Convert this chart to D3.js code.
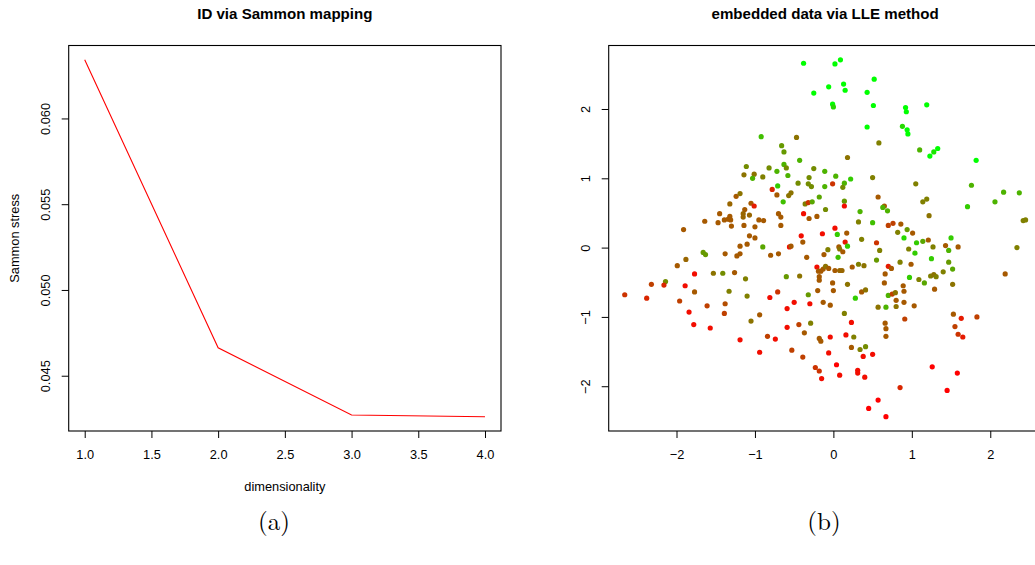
<!DOCTYPE html>
<html><head><meta charset="utf-8">
<script src="https://cdn.jsdelivr.net/npm/d3@7"></script>
<style>
body{margin:0;background:#fff}
text{font-family:"Liberation Sans",Arial,Helvetica,sans-serif;fill:#000}
</style></head>
<body><svg id="c" width="1035" height="565"></svg>
<script>
// ---- panel (a): Sammon stress vs dimensionality
const dims = [1, 2, 3, 4];
const stress = [0.06342, 0.04663, 0.04271, 0.04261];
const xTicksA = [1, 1.5, 2, 2.5, 3, 3.5, 4];
const yTicksA = [0.045, 0.050, 0.055, 0.060];

// ---- panel (b): LLE embedding (x, y, colour shade 0=red .. 1=green)
const lleX = [-1.32,-1.45,-1.64,-1.47,-1.39,-1.32,-1.34,-1.31,-1.30,-1.91,-1.24,-1.19,
-0.38,0.02,0.09,0.52,-0.06,0.13,0.15,-0.25,0.43,-0.01,0.00,0.51,0.43,-0.92,-0.47,0.58,-0.66,-0.63,
0.18,-0.43,-1.11,-0.63,-0.60,-0.82,-0.72,-0.25,-0.11,-1.14,-1.01,-1.03,-0.90,-0.58,-0.31,0.03,0.22,0.50,
0.14,0.12,-0.45,-0.32,-0.28,-0.11,-0.71,-0.01,-0.78,-0.72,-0.57,-0.54,-0.18,0.57,-0.64,-0.36,-0.32,-0.27,
0.14,0.14,-1.05,-1.01,-1.13,-1.15,-1.15,-1.07,-0.70,-0.67,-0.38,-0.31,-0.21,-0.10,0.34,0.32,0.50,-0.95,
-0.89,-1.14,-1.00,-0.67,0.02,
0.92,0.93,1.19,0.88,0.94,0.95,1.10,1.33,1.28,1.23,1.82,1.05,1.76,2.17,2.37,1.19,1.14,0.65,0.63,0.69,
1.71,2.06,1.22,2.45,2.42,0.70,0.76,0.86,0.94,
0.82,1.01,0.90,1.06,1.14,1.21,1.50,0.96,1.04,1.27,1.43,1.59,1.47,1.25,0.85,0.99,1.47,2.34,2.19,0.70,
0.74,0.66,0.65,0.97,1.09,1.16,1.40,1.52,1.24,1.28,1.31,1.52,0.89,0.90,1.29,0.70,0.75,0.79,0.80,0.90,
0.67,0.80,1.03,0.91,1.53,1.63,1.83,0.66,0.67,0.67,1.55,1.59,1.65,1.26,1.58,0.85,1.45,0.67,
-1.66,-1.63,-1.38,-1.88,-1.99,-1.77,-1.53,-1.41,-2.32,-2.14,-2.16,-1.89,-1.77,-1.33,-2.66,-2.38,-1.96,
-1.38,-1.61,-1.84,-1.39,-1.78,-1.57,
-1.07,-1.00,-1.19,-1.10,-0.90,-1.23,-1.19,-0.80,-0.70,-0.56,-0.54,-0.41,-0.39,-0.14,0.05,0.17,0.36,0.55,
0.59,0.15,0.18,0.07,0.08,0.12,-0.07,-0.12,0.06,-0.34,0.55,-1.26,-1.12,-0.60,-0.43,-0.21,-0.19,-0.16,
-0.13,-0.10,-0.06,0.02,0.08,0.11,0.24,0.32,0.39,-0.18,-0.18,-0.01,0.18,-1.10,-0.71,-0.81,-0.32,-0.20,
0.00,0.36,0.41,0.28,-0.50,-0.30,-0.13,-0.04,-0.59,0.57,-0.94,-1.05,0.14,0.23,-0.59,-0.44,-0.29,-0.37,
-1.19,-0.84,-0.74,-0.18,-0.16,-0.04,0.16,0.26,0.23,0.34,0.41,-0.94,-0.53,-0.39,-0.06,0.38,0.50,0.04,
-0.23,-0.18,-0.15,0.08,0.31,0.31,0.40,0.57,0.45];
const lleY = [0.63,0.49,0.38,0.36,0.40,0.45,0.41,0.40,0.31,0.26,0.74,0.78,
2.66,2.65,2.71,2.43,2.32,2.36,2.27,2.23,2.24,2.07,2.03,2.05,1.74,1.60,1.59,1.51,1.47,1.38,
1.30,1.26,1.17,1.20,1.15,1.15,1.10,1.14,1.10,1.05,1.06,1.00,1.02,1.04,1.01,1.03,0.99,1.01,
0.93,0.87,0.93,0.92,0.88,0.88,0.89,0.92,0.84,0.76,0.75,0.79,0.73,0.73,0.66,0.63,0.65,0.66,
0.67,0.60,0.64,0.60,0.55,0.49,0.44,0.47,0.49,0.44,0.49,0.42,0.45,0.55,0.52,0.37,0.36,0.40,
0.39,0.32,0.30,0.32,0.28,
2.02,1.96,2.06,1.75,1.70,1.64,1.41,1.43,1.38,1.32,1.26,0.92,0.90,0.80,0.79,0.70,0.66,0.60,0.58,0.53,
0.59,0.66,0.46,0.40,0.39,0.32,0.35,0.34,0.26,
0.22,0.21,0.14,0.07,0.09,0.11,0.14,-0.02,-0.08,0.01,0.03,0.01,-0.04,-0.16,-0.21,-0.24,-0.21,0.00,-0.38,-0.27,
-0.30,-0.38,-0.51,-0.43,-0.46,-0.51,-0.35,-0.31,-0.41,-0.39,-0.42,-0.53,-0.55,-0.63,-0.60,-0.69,-0.67,-0.65,-0.76,-0.79,
-0.86,-0.85,-0.84,-1.03,-0.96,-1.02,-1.00,-1.09,-1.17,-1.28,-1.14,-1.25,-1.29,-1.72,-1.81,-2.02,-2.06,-2.44,
-0.07,-0.10,-0.09,-0.17,-0.26,-0.38,-0.37,-0.37,-0.53,-0.49,-0.54,-0.55,-0.64,-0.63,-0.68,-0.73,-0.77,
-0.81,-0.84,-0.93,-0.95,-1.11,-1.16,
0.17,0.14,0.02,0.05,0.01,-0.12,-0.09,-0.11,-0.09,0.01,0.02,0.17,0.08,0.20,0.19,0.21,0.12,0.07,
-0.04,0.08,0.02,0.01,-0.02,-0.06,-0.03,-0.10,-0.14,-0.14,-0.18,-0.36,-0.45,-0.42,-0.41,-0.28,-0.34,-0.34,
-0.31,-0.27,-0.30,-0.33,-0.33,-0.33,-0.28,-0.24,-0.26,-0.42,-0.47,-0.51,-0.53,-0.70,-0.64,-0.72,-0.68,-0.62,
-0.62,-0.64,-0.61,-0.73,-0.79,-0.81,-0.79,-0.83,-0.88,-0.86,-0.97,-1.06,-0.95,-1.08,-1.15,-1.11,-1.09,-1.23,
-1.33,-1.28,-1.32,-1.31,-1.35,-1.29,-1.26,-1.29,-1.44,-1.47,-1.43,-1.51,-1.48,-1.58,-1.52,-1.57,-1.54,-1.69,
-1.73,-1.78,-1.89,-1.84,-1.77,-1.81,-1.87,-2.20,-2.32];
const lleShade = [0.4,0.35,0.35,0.35,0.35,0.35,0.35,0.35,0.35,0.35,0.35,0.45,
1,1,1,1,1,1,1,1,1,1,0.85,1,1,0.75,0.45,0.5,0.6,0.6,
0.45,0.7,0.55,0.7,0.55,0.55,0.7,0.55,0.7,0.45,0.45,0.7,0.5,0.7,0.55,0.7,0.8,0.5,
0.7,0.55,0.55,0.55,0.55,0.7,0.8,0.2,0.15,0.35,0.45,0.45,0.65,0.35,0.75,0.5,0.2,0.65,
0.6,0.05,0.35,0.1,0.35,0.4,0.4,0.4,0.35,0.35,0.05,0.35,0.35,0.55,0.7,0.5,0.75,0.35,
0.35,0.35,0.35,0.35,0.05,
1,1,1,0.85,1,1,0.7,1,0.9,1,1,0.5,0.7,0.7,0.7,0.5,0.5,0.35,0.7,0.7,
0.8,0.7,0.45,0.5,0.5,0.25,0.25,0.35,0.6,
0.5,0.35,0.85,0.8,0.65,0.35,0.8,0.5,0.8,0.5,0.35,0.35,0.7,0.8,0.5,0.35,0.6,0.5,0.35,0.1,
0.35,0.35,0.35,0.8,0.5,0.65,0.5,0.65,0.5,0.45,0.5,0.45,0.35,0.35,0.35,0.7,0.25,0.45,0.35,0.35,
0.7,0.45,0.35,0.25,0.35,0.1,0.25,0.35,0.35,0.35,0.25,0.2,0.1,0,0,0.15,0,0,
0.6,0.6,0.35,0.4,0.35,0.05,0.45,0.55,0.25,0.55,0.15,0.05,0.35,0.5,0.2,0.15,0.25,
0.3,0.25,0.05,0.25,0.05,0.05,
0.35,0.35,0.35,0.35,0.65,0.35,0.35,0.35,0.35,0.05,0.35,0.05,0.35,0.05,0.8,0.35,0.5,0.2,
0.5,0.1,0.8,0.35,0.45,0.35,0.5,0.35,0.75,0.35,0.6,0.35,0.5,0.6,0.45,0.05,0.35,0.35,
0.35,0.45,0.35,0.35,0.4,0.4,0.35,0.5,0.45,0.35,0.35,0.35,0.45,0.5,0.2,0.05,0.6,0.35,
0.35,0.35,0.45,0.8,0.05,0.05,0.35,0.35,0.05,0.45,0.35,0.45,0.5,0.05,0.05,0.25,0.5,0.35,
0.05,0.25,0.05,0.35,0.35,0.05,0.05,0.5,0.35,0.5,0.55,0.05,0.25,0.25,0.05,0.05,0.05,0,
0.2,0.2,0.05,0.05,0.05,0.05,0.05,0,0];
const xTicksB = [-2, -1, 0, 1, 2];
const yTicksB = [-2, -1, 0, 1, 2];

const svg = d3.select("#c");
const FS = 12.8;
const TFS = 15.1;

function pad4(ext){ const r = ext[1]-ext[0]; return [ext[0]-0.04*r, ext[1]+0.04*r]; }

function drawAxes(g, x, y, xt, yt, fmtX, fmtY, box){
  g.append("rect").attr("x", box[0]).attr("y", box[2])
    .attr("width", box[1]-box[0]).attr("height", box[3]-box[2])
    .attr("fill","none").attr("stroke","#000").attr("stroke-width",1.1);
  const ax = g.append("g").attr("transform",`translate(0,${box[3]})`)
    .call(d3.axisBottom(x).tickValues(xt).tickFormat(fmtX).tickSize(7).tickSizeOuter(0).tickPadding(12));
  ax.select(".domain").remove();
  ax.selectAll("text").attr("font-size",FS).attr("font-family",null);
  ax.selectAll("line").attr("stroke","#000");
  const ay = g.append("g").attr("transform",`translate(${box[0]},0)`)
    .call(d3.axisLeft(y).tickValues(yt).tickFormat(fmtY).tickSize(7).tickSizeOuter(0));
  ay.select(".domain").remove();
  ay.selectAll("line").attr("stroke","#000");
  ay.selectAll("text").attr("font-size",FS).attr("font-family",null)
    .attr("transform","rotate(-90)").attr("x",0).attr("y",-23).attr("dy","0.36em")
    .attr("text-anchor","middle");
}

// ---------- Panel A
const boxA = [68.7, 501, 45.5, 431];
const xA = d3.scaleLinear().domain(pad4(d3.extent(dims))).range([boxA[0], boxA[1]]);
const yA = d3.scaleLinear().domain(pad4(d3.extent(stress))).range([boxA[3], boxA[2]]);
const gA = svg.append("g");
drawAxes(gA, xA, yA, xTicksA, yTicksA, d3.format(".1f"), d3.format(".3f"), boxA);
gA.append("path").datum(dims.map((d,i)=>[d,stress[i]]))
  .attr("d", d3.line().x(d=>xA(d[0])).y(d=>yA(d[1])))
  .attr("fill","none").attr("stroke","#ff0000").attr("stroke-width",1.1);
gA.append("text").attr("x",(boxA[0]+boxA[1])/2).attr("y",14).attr("dy","0.35em")
  .attr("text-anchor","middle").attr("font-weight","bold").attr("font-size",TFS)
  .text("ID via Sammon mapping");
gA.append("text").attr("x",(boxA[0]+boxA[1])/2).attr("y",487).attr("dy","0.35em")
  .attr("text-anchor","middle").attr("font-size",FS).text("dimensionality");
gA.append("text").attr("transform",`translate(14.5,${(boxA[2]+boxA[3])/2}) rotate(-90)`)
  .attr("dy","0.35em").attr("text-anchor","middle").attr("font-size",FS).text("Sammon stress");

// ---------- Panel B
const boxB = [608.7, 1041.6, 45.5, 431];
const xB = d3.scaleLinear().domain(pad4(d3.extent(lleX))).range([boxB[0], boxB[1]]);
const yB = d3.scaleLinear().domain(pad4(d3.extent(lleY))).range([boxB[3], boxB[2]]);
const gB = svg.append("g");
drawAxes(gB, xB, yB, xTicksB, yTicksB, d3.format("d"), d3.format("d"), boxB);
const shadeColor = t => d3.rgb(Math.round(255*(1-t)), Math.round(255*t), 0).toString();
gB.append("g").selectAll("circle").data(lleX.map((v,i)=>({x:v,y:lleY[i],t:lleShade[i]})))
  .join("circle").attr("cx",d=>xB(d.x)).attr("cy",d=>yB(d.y)).attr("r",2.6)
  .attr("fill",d=>shadeColor(d.t));
gB.append("text").attr("x",(boxB[0]+boxB[1])/2).attr("y",14).attr("dy","0.35em")
  .attr("text-anchor","middle").attr("font-weight","bold").attr("font-size",TFS)
  .text("embedded data via LLE method");

// ---------- captions
const caps = [["(a)", 274], ["(b)", 824]];
svg.selectAll("text.cap").data(caps).join("text").attr("class","cap")
  .attr("x",d=>d[1]).attr("y",530).attr("text-anchor","middle")
  .attr("font-size",25).style("font-family","'Latin Modern Roman','DejaVu Serif','Liberation Serif',serif")
  .text(d=>d[0]);
</script></body></html>
